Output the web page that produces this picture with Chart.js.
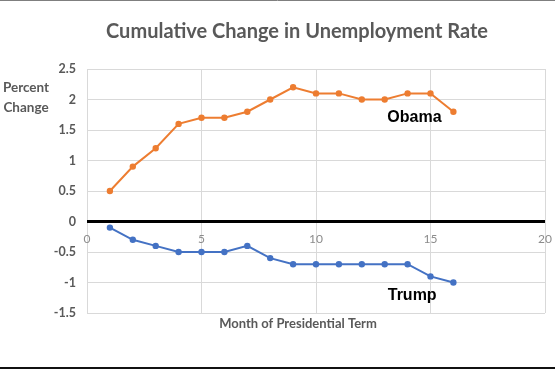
<!DOCTYPE html>
<html>
<head>
<meta charset="utf-8">
<title>Cumulative Change in Unemployment Rate</title>
<script src="https://cdn.jsdelivr.net/npm/chart.js@4.4.0/dist/chart.umd.min.js"></script>
<style>
  html, body { margin: 0; padding: 0; background: #fff; }
  #wrap { width: 555px; height: 370px; position: relative; }
</style>
</head>
<body>
<div id="wrap"><canvas id="chart"></canvas></div>
<script>
// values
const months = [1, 2, 3, 4, 5, 6, 7, 8, 9, 10, 11, 12, 13, 14, 15, 16];
const obamaChange = [0.5, 0.9, 1.2, 1.6, 1.7, 1.7, 1.8, 2.0, 2.2, 2.1, 2.1, 2.0, 2.0, 2.1, 2.1, 1.8];
const trumpChange = [-0.1, -0.3, -0.4, -0.5, -0.5, -0.5, -0.4, -0.6, -0.7, -0.7, -0.7, -0.7, -0.7, -0.7, -0.9, -1.0];
const xRange = [0, 20];
const yRange = [-1.5, 2.5];

const chartTitle = 'Cumulative Change in Unemployment Rate';
const yTitle = ['Percent', 'Change'];
const xTitle = 'Month of Presidential Term';

const textGray = '#595959';
const orange = '#ED7D31';
const blue = '#4472C4';

const toPoints = vals => months.map((m, i) => ({ x: m, y: vals[i] }));

// titles, series names and frame lines
const labelsPlugin = {
  id: 'labels',
  afterDraw(chart) {
    const ctx = chart.ctx;
    const x = chart.scales.x;
    const y = chart.scales.y;
    ctx.save();

    ctx.strokeStyle = '#7f7f7f';
    ctx.lineWidth = 1;
    ctx.beginPath();
    ctx.moveTo(0, 0.5);
    ctx.lineTo(555, 0.5);
    ctx.stroke();
    ctx.strokeStyle = '#111';
    ctx.lineWidth = 2;
    ctx.beginPath();
    ctx.moveTo(0, 368);
    ctx.lineTo(555, 368);
    ctx.stroke();

    ctx.fillStyle = textGray;
    ctx.textBaseline = 'middle';
    ctx.textAlign = 'center';
    ctx.font = 'bold 20px Lato';
    ctx.fillText(chartTitle, 297, 32);

    ctx.font = 'bold 13.5px Lato';
    ctx.fillText(yTitle[0], 26, 88);
    ctx.fillText(yTitle[1], 26, 108);
    ctx.font = 'bold 13px Lato';
    ctx.fillText(xTitle, 298, 324);

    ctx.fillStyle = '#000';
    ctx.font = 'bold 16px "Liberation Sans"';
    ctx.fillText('Obama', x.getPixelForValue(14.3), y.getPixelForValue(1.7));
    ctx.fillText('Trump', x.getPixelForValue(14.2), y.getPixelForValue(-1.22));
    ctx.restore();
  }
};

new Chart(document.getElementById('chart'), {
  type: 'line',
  data: {
    datasets: [
      {
        label: 'Obama',
        data: toPoints(obamaChange),
        borderColor: orange,
        backgroundColor: orange,
        borderWidth: 2,
        pointRadius: 2.2,
        tension: 0
      },
      {
        label: 'Trump',
        data: toPoints(trumpChange),
        borderColor: blue,
        backgroundColor: blue,
        borderWidth: 2,
        pointRadius: 2.2,
        tension: 0
      }
    ]
  },
  options: {
    responsive: true,
    maintainAspectRatio: false,
    animation: false,
    layout: { padding: { left: 0, right: 10, top: 69, bottom: 57 } },
    plugins: {
      legend: { display: false },
      title: { display: false },
      tooltip: { enabled: false }
    },
    scales: {
      x: {
        type: 'linear',
        min: xRange[0],
        max: xRange[1],
        position: { y: 0 },
        border: { display: false },
        afterFit(scale) { scale.paddingLeft = 0; scale.paddingRight = 0; },
        grid: { color: '#d9d9d9', drawTicks: false },
        ticks: {
          stepSize: 5,
          padding: 10,
          color: '#8c8c8c',
          font: { family: 'Lato', size: 12 }
        }
      },
      y: {
        min: yRange[0],
        max: yRange[1],
        border: { display: false },
        afterFit(scale) { scale.width = 87; },
        grid: {
          drawTicks: false,
          color: c => (c.tick && c.tick.value === 0 ? '#000' : '#d9d9d9'),
          lineWidth: c => (c.tick && c.tick.value === 0 ? 3 : 1)
        },
        ticks: {
          stepSize: 0.5,
          padding: 11,
          color: textGray,
          font: { family: 'Lato', size: 12.5, weight: 'bold' },
          callback: v => String(Math.round(v * 10) / 10)
        }
      }
    }
  },
  plugins: [labelsPlugin]
});
</script>
</body>
</html>
